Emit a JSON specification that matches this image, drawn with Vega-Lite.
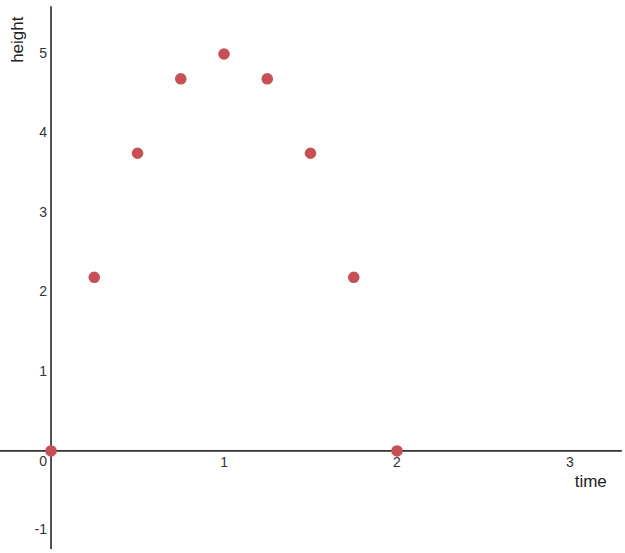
{
  "$schema": "https://vega.github.io/schema/vega-lite/v6.json",
  "width": 625,
  "height": 553,
  "autosize": "none",
  "padding": 0,
  "background": "white",
  "config": {"view": {"stroke": null}, "text": {"font": "Liberation Sans"}},
  "datasets": {
    "points": [
      {"time": 0, "height": 0},
      {"time": 0.25, "height": 2.1875},
      {"time": 0.5, "height": 3.75},
      {"time": 0.75, "height": 4.6875},
      {"time": 1, "height": 5},
      {"time": 1.25, "height": 4.6875},
      {"time": 1.5, "height": 3.75},
      {"time": 1.75, "height": 2.1875},
      {"time": 2, "height": 0}
    ],
    "xticks": [{"v": 1, "label": "1"}, {"v": 2, "label": "2"}, {"v": 3, "label": "3"}],
    "yticks": [{"v": -1, "label": "-1"}, {"v": 1, "label": "1"}, {"v": 2, "label": "2"}, {"v": 3, "label": "3"}, {"v": 4, "label": "4"}, {"v": 5, "label": "5"}]
  },
  "layer": [
    {
      "data": {"values": [{}]},
      "mark": {"type": "rule", "color": "#333333", "strokeWidth": 1.7},
      "encoding": {
        "y": {"datum": 0, "type": "quantitative", "scale": {"domain": [-1.285, 5.68], "nice": false, "zero": false}, "axis": null},
        "x": {"datum": -0.295, "type": "quantitative", "scale": {"domain": [-0.295, 3.318], "nice": false, "zero": false}, "axis": null},
        "x2": {"datum": 3.30}
      }
    },
    {
      "data": {"values": [{}]},
      "mark": {"type": "rule", "color": "#333333", "strokeWidth": 1.7},
      "encoding": {
        "x": {"datum": 0, "type": "quantitative"},
        "y": {"datum": -1.234, "type": "quantitative"},
        "y2": {"datum": 5.60}
      }
    },
    {
      "data": {"name": "xticks"},
      "mark": {"type": "text", "fontSize": 14, "color": "#333333", "baseline": "middle", "align": "center", "dy": 12},
      "encoding": {
        "x": {"field": "v", "type": "quantitative"},
        "y": {"datum": 0, "type": "quantitative"},
        "text": {"field": "label"}
      }
    },
    {
      "data": {"values": [{"label": "0"}]},
      "mark": {"type": "text", "fontSize": 14, "color": "#333333", "baseline": "middle", "align": "center", "dx": -8, "dy": 11},
      "encoding": {
        "x": {"datum": 0, "type": "quantitative"},
        "y": {"datum": 0, "type": "quantitative"},
        "text": {"field": "label"}
      }
    },
    {
      "data": {"name": "yticks"},
      "mark": {"type": "text", "fontSize": 14, "color": "#333333", "baseline": "middle", "align": "right", "dx": -4},
      "encoding": {
        "x": {"datum": 0, "type": "quantitative"},
        "y": {"field": "v", "type": "quantitative"},
        "text": {"field": "label"}
      }
    },
    {
      "data": {"values": [{"label": "time"}]},
      "mark": {"type": "text", "fontSize": 17, "color": "#222222", "baseline": "middle", "align": "center"},
      "encoding": {
        "x": {"datum": 3.12, "type": "quantitative"},
        "y": {"datum": -0.39, "type": "quantitative"},
        "text": {"field": "label"}
      }
    },
    {
      "data": {"values": [{"label": "height"}]},
      "mark": {"type": "text", "fontSize": 17, "color": "#222222", "baseline": "middle", "align": "center", "angle": 270},
      "encoding": {
        "x": {"datum": -0.19, "type": "quantitative"},
        "y": {"datum": 5.18, "type": "quantitative"},
        "text": {"field": "label"}
      }
    },
    {
      "data": {"name": "points"},
      "mark": {"type": "circle", "size": 135, "color": "#c74f55", "opacity": 1},
      "encoding": {
        "x": {"field": "time", "type": "quantitative"},
        "y": {"field": "height", "type": "quantitative"}
      }
    }
  ]
}
